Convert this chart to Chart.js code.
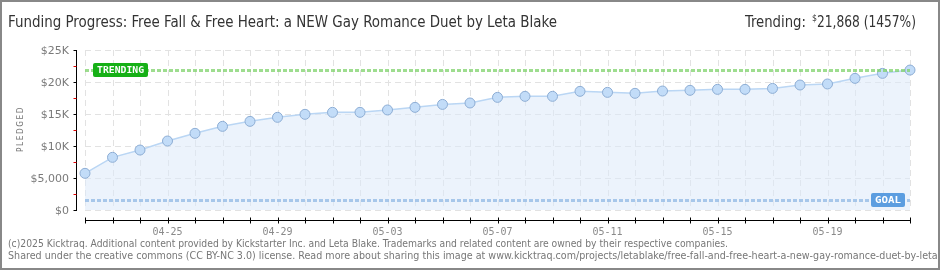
<!DOCTYPE html>
<html>
<head>
<meta charset="utf-8">
<script src="https://cdn.jsdelivr.net/npm/chart.js@4/dist/chart.umd.min.js"></script>
<style>
  html, body { margin: 0; padding: 0; background: #fff; }
  #wrap { width: 940px; height: 270px; position: relative; }
</style>
</head>
<body>
<div id="wrap"><canvas id="chart" width="940" height="270"></canvas></div>
<script>
// Data
const dates = ['04-22','04-23','04-24','04-25','04-26','04-27','04-28','04-29','04-30','05-01',
  '05-02','05-03','05-04','05-05','05-06','05-07','05-08','05-09','05-10','05-11',
  '05-12','05-13','05-14','05-15','05-16','05-17','05-18','05-19','05-20','05-21','05-22'];
const pledged = [5730, 8230, 9370, 10780, 11980, 13070, 13850, 14480, 14950, 15260,
  15260, 15630, 16040, 16500, 16720, 17600, 17760, 17760, 18540, 18380,
  18230, 18590, 18700, 18850, 18850, 19000, 19530, 19690, 20570, 21350, 21868];
const shownDates = ['04-25','04-29','05-03','05-07','05-11','05-15','05-19'];
const yTicks = [0, 5000, 10000, 15000, 20000, 25000];
const yTickLabels = ['$0', '$5,000', '$10K', '$15K', '$20K', '$25K'];
const TRENDING = 21868;
const GOAL = 1500;

const TITLE = 'Funding Progress: Free Fall & Free Heart: a NEW Gay Romance Duet by Leta Blake';
const FOOT1 = '(c)2025 Kicktraq. Additional content provided by Kickstarter Inc. and Leta Blake. Trademarks and related content are owned by their respective companies.';
const FOOT2 = 'Shared under the creative commons (CC BY-NC 3.0) license. Read more about sharing this image at www.kicktraq.com/projects/letablake/free-fall-and-free-heart-a-new-gay-romance-duet-by-leta-blake/';

// draw text squeezed/stretched to a given width
function fitText(ctx, text, x, y, width) {
  const w = ctx.measureText(text).width;
  ctx.save();
  ctx.translate(x, y);
  ctx.scale(width / w, 1);
  ctx.fillText(text, 0, 0);
  ctx.restore();
}

function roundBox(ctx, x, y, w, h, r, color) {
  ctx.fillStyle = color;
  ctx.beginPath();
  ctx.roundRect(x, y, w, h, r);
  ctx.fill();
}

// Grid, reference lines and axes behind the data
const backdrop = {
  id: 'backdrop',
  beforeDatasetsDraw(chart) {
    const { ctx, chartArea: a, scales: { x, y } } = chart;
    ctx.save();
    ctx.strokeStyle = '#e2e2e2';
    ctx.lineWidth = 1;
    ctx.setLineDash([6, 4]);
    yTicks.forEach(v => {
      const py = Math.round(y.getPixelForValue(v)) + 0.5;
      ctx.beginPath(); ctx.moveTo(a.left, py); ctx.lineTo(a.right, py); ctx.stroke();
    });
    dates.forEach((d, i) => {
      const px = Math.round(x.getPixelForValue(i)) + 0.5;
      ctx.beginPath(); ctx.moveTo(px, a.top); ctx.lineTo(px, a.bottom); ctx.stroke();
    });
    ctx.restore();
  },
  afterDatasetsDraw(chart) {
    const { ctx, chartArea: a, scales: { x, y } } = chart;
    ctx.save();
    // trending + goal lines
    const ty = Math.round(y.getPixelForValue(TRENDING));
    const gy = Math.round(y.getPixelForValue(GOAL));
    ctx.lineWidth = 3;
    ctx.setLineDash([4, 2]);
    ctx.strokeStyle = 'rgba(125, 210, 105, 0.75)';
    ctx.beginPath(); ctx.moveTo(a.left, ty + 0.5); ctx.lineTo(a.right, ty + 0.5); ctx.stroke();
    ctx.strokeStyle = 'rgba(150, 188, 230, 0.8)';
    ctx.beginPath(); ctx.moveTo(a.left, gy + 0.5); ctx.lineTo(a.right, gy + 0.5); ctx.stroke();
    ctx.setLineDash([]);

    // labels on those lines
    roundBox(ctx, 93, ty - 7, 55, 14, 2, '#16b016');
    roundBox(ctx, 871, gy - 7, 34, 14, 2, '#5b9de0');
    ctx.fillStyle = '#fff';
    ctx.font = 'bold 9px "DejaVu Sans Mono"';
    ctx.textBaseline = 'middle';
    fitText(ctx, 'TRENDING', 97, ty + 1, 47);
    fitText(ctx, 'GOAL', 875, gy + 1, 26);

    // y axis
    ctx.strokeStyle = '#000';
    ctx.lineWidth = 1;
    const ax = 76.5;
    ctx.beginPath(); ctx.moveTo(ax, a.top); ctx.lineTo(ax, a.bottom + 1); ctx.stroke();
    for (let v = 0; v <= 25000; v += 2500) {
      const py = Math.round(y.getPixelForValue(v)) + 0.5;
      ctx.strokeStyle = v % 5000 === 0 ? '#000' : '#e00000';
      ctx.beginPath(); ctx.moveTo(ax - 3, py); ctx.lineTo(ax, py); ctx.stroke();
    }
    ctx.fillStyle = '#7a7a7a';
    ctx.font = '11px "DejaVu Sans"';
    ctx.textAlign = 'right';
    ctx.textBaseline = 'middle';
    yTicks.forEach((v, i) => ctx.fillText(yTickLabels[i], 69, y.getPixelForValue(v) + 1));

    // x axis
    const bx = 220.5;
    ctx.strokeStyle = '#000';
    ctx.beginPath(); ctx.moveTo(a.left, bx); ctx.lineTo(a.right + 1, bx); ctx.stroke();
    dates.forEach((d, i) => {
      const px = Math.round(x.getPixelForValue(i)) + 0.5;
      ctx.beginPath(); ctx.moveTo(px, bx - 3); ctx.lineTo(px, bx + 3); ctx.stroke();
    });
    ctx.fillStyle = '#8a8a8a';
    ctx.font = '10px "DejaVu Sans Mono"';
    ctx.textAlign = 'center';
    shownDates.forEach(d => ctx.fillText(d, x.getPixelForValue(dates.indexOf(d)), 232));

    // axis title
    ctx.save();
    ctx.translate(21, 130);
    ctx.rotate(-Math.PI / 2);
    ctx.fillStyle = '#777';
    ctx.font = '9px "DejaVu Sans"';
    ctx.textAlign = 'left';
    ctx.letterSpacing = '2px';
    fitText(ctx, 'PLEDGED', -22, 0, 46);
    ctx.restore();

    // title and trending text
    ctx.fillStyle = '#333';
    ctx.textAlign = 'left';
    ctx.textBaseline = 'alphabetic';
    ctx.font = '16px "DejaVu Sans Condensed", "DejaVu Sans"';
    fitText(ctx, TITLE, 8, 27, 549);
    fitText(ctx, 'Trending:', 745, 27, 61);
    ctx.font = '9px "DejaVu Sans Condensed", "DejaVu Sans"';
    fitText(ctx, '$', 812, 21, 5);
    ctx.font = '16px "DejaVu Sans Condensed", "DejaVu Sans"';
    fitText(ctx, '21,868 (1457%)', 817, 27, 99);

    // footer
    ctx.fillStyle = '#777';
    ctx.font = '10px "DejaVu Sans Condensed", "DejaVu Sans"';
    fitText(ctx, FOOT1, 8, 247, 720);
    fitText(ctx, FOOT2, 8, 259, 962);

    // frame
    ctx.strokeStyle = '#888';
    ctx.lineWidth = 2;
    ctx.strokeRect(1, 1, 938, 268);
    ctx.restore();
  }
};

new Chart(document.getElementById('chart'), {
  type: 'line',
  data: {
    labels: dates,
    datasets: [{
      data: pledged,
      borderColor: '#bad6f4',
      borderWidth: 1.5,
      backgroundColor: 'rgba(220, 234, 250, 0.55)',
      fill: 'origin',
      tension: 0,
      pointRadius: 5,
      pointBackgroundColor: '#c2dcf8',
      pointBorderColor: '#8dadd4',
      pointBorderWidth: 1,
      clip: false,
    }],
  },
  options: {
    responsive: false,
    animation: false,
    layout: { padding: { left: 85, right: 30, top: 50, bottom: 60 } },
    scales: {
      x: { display: false, offset: false },
      y: { display: false, min: 0, max: 25000 },
    },
    plugins: {
      legend: { display: false },
      tooltip: { enabled: false },
    },
  },
  plugins: [backdrop],
});
</script>
</body>
</html>
